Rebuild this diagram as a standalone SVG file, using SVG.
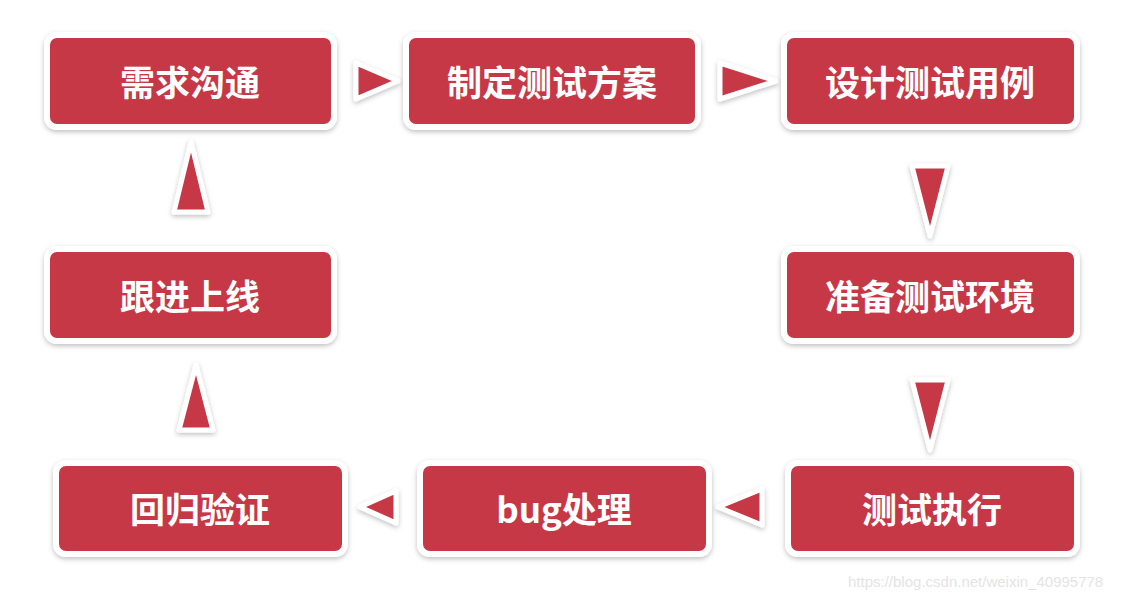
<svg xmlns="http://www.w3.org/2000/svg" width="1129" height="599" viewBox="0 0 1129 599">
<style>
.box{fill:#C73847;stroke:#fff;stroke-width:6;filter:url(#sh)}
.t{font-family:"Noto Sans CJK SC","Noto Sans",sans-serif;font-weight:bold;font-size:35px;fill:#fff;text-anchor:middle;dominant-baseline:central}
.stem{stroke:#fff;stroke-width:7;filter:url(#sh)}
.tri{fill:#C73847;stroke:#fff;stroke-width:5;stroke-linejoin:round;filter:url(#sh)}
.wm{font-family:"Liberation Sans",sans-serif;font-size:15px;fill:#e4e4e4}
</style>
<defs>
<filter id="sh" x="-20%" y="-20%" width="140%" height="150%">
<feDropShadow dx="0" dy="2" stdDeviation="2.5" flood-color="#000" flood-opacity="0.25"/>
</filter>
</defs>
<rect width="1129" height="599" fill="#fff"/>
<g id="connectors">
<line class="stem" x1="338" y1="81" x2="358" y2="81"/><polygon class="tri" points="356,63 356,99 398,81"/>
<line class="stem" x1="702" y1="81" x2="722" y2="81"/><polygon class="tri" points="720,63 720,99 776,81"/>
<line class="stem" x1="930" y1="132" x2="930" y2="168"/><polygon class="tri" points="912,166 948,166 930,236"/>
<line class="stem" x1="930" y1="346" x2="930" y2="382"/><polygon class="tri" points="912,380 948,380 930,450"/>
<line class="stem" x1="784" y1="507" x2="760" y2="507"/><polygon class="tri" points="762,489 762,525 718,507"/>
<line class="stem" x1="416" y1="507" x2="394" y2="507"/><polygon class="tri" points="396,491 396,523 360,507"/>
<line class="stem" x1="196" y1="458" x2="196" y2="428"/><polygon class="tri" points="179,430 213,430 196,365"/>
<line class="stem" x1="191" y1="244" x2="191" y2="210"/><polygon class="tri" points="174,212 208,212 191,142"/>
</g>
<g id="n1"><rect class="box" x="47" y="35" width="287" height="92" rx="10"/><text class="t" x="190" y="80">需求沟通</text></g>
<g id="n2"><rect class="box" x="406" y="35" width="292" height="92" rx="10"/><text class="t" x="552" y="80">制定测试方案</text></g>
<g id="n3"><rect class="box" x="784" y="35" width="293" height="92" rx="10"/><text class="t" x="930" y="80">设计测试用例</text></g>
<g id="n4"><rect class="box" x="784" y="249" width="293" height="92" rx="10"/><text class="t" x="930" y="294">准备测试环境</text></g>
<g id="n5"><rect class="box" x="788" y="463" width="289" height="91" rx="10"/><text class="t" x="932" y="507">测试执行</text></g>
<g id="n6"><rect class="box" x="420" y="463" width="289" height="91" rx="10"/><text class="t" x="564" y="507">bug处理</text></g>
<g id="n7"><rect class="box" x="56" y="463" width="289" height="91" rx="10"/><text class="t" x="200" y="507">回归验证</text></g>
<g id="n8"><rect class="box" x="47" y="249" width="287" height="92" rx="10"/><text class="t" x="190" y="294">跟进上线</text></g>
<text class="wm" x="848" y="587">https://blog.csdn.net/weixin_40995778</text>
</svg>
